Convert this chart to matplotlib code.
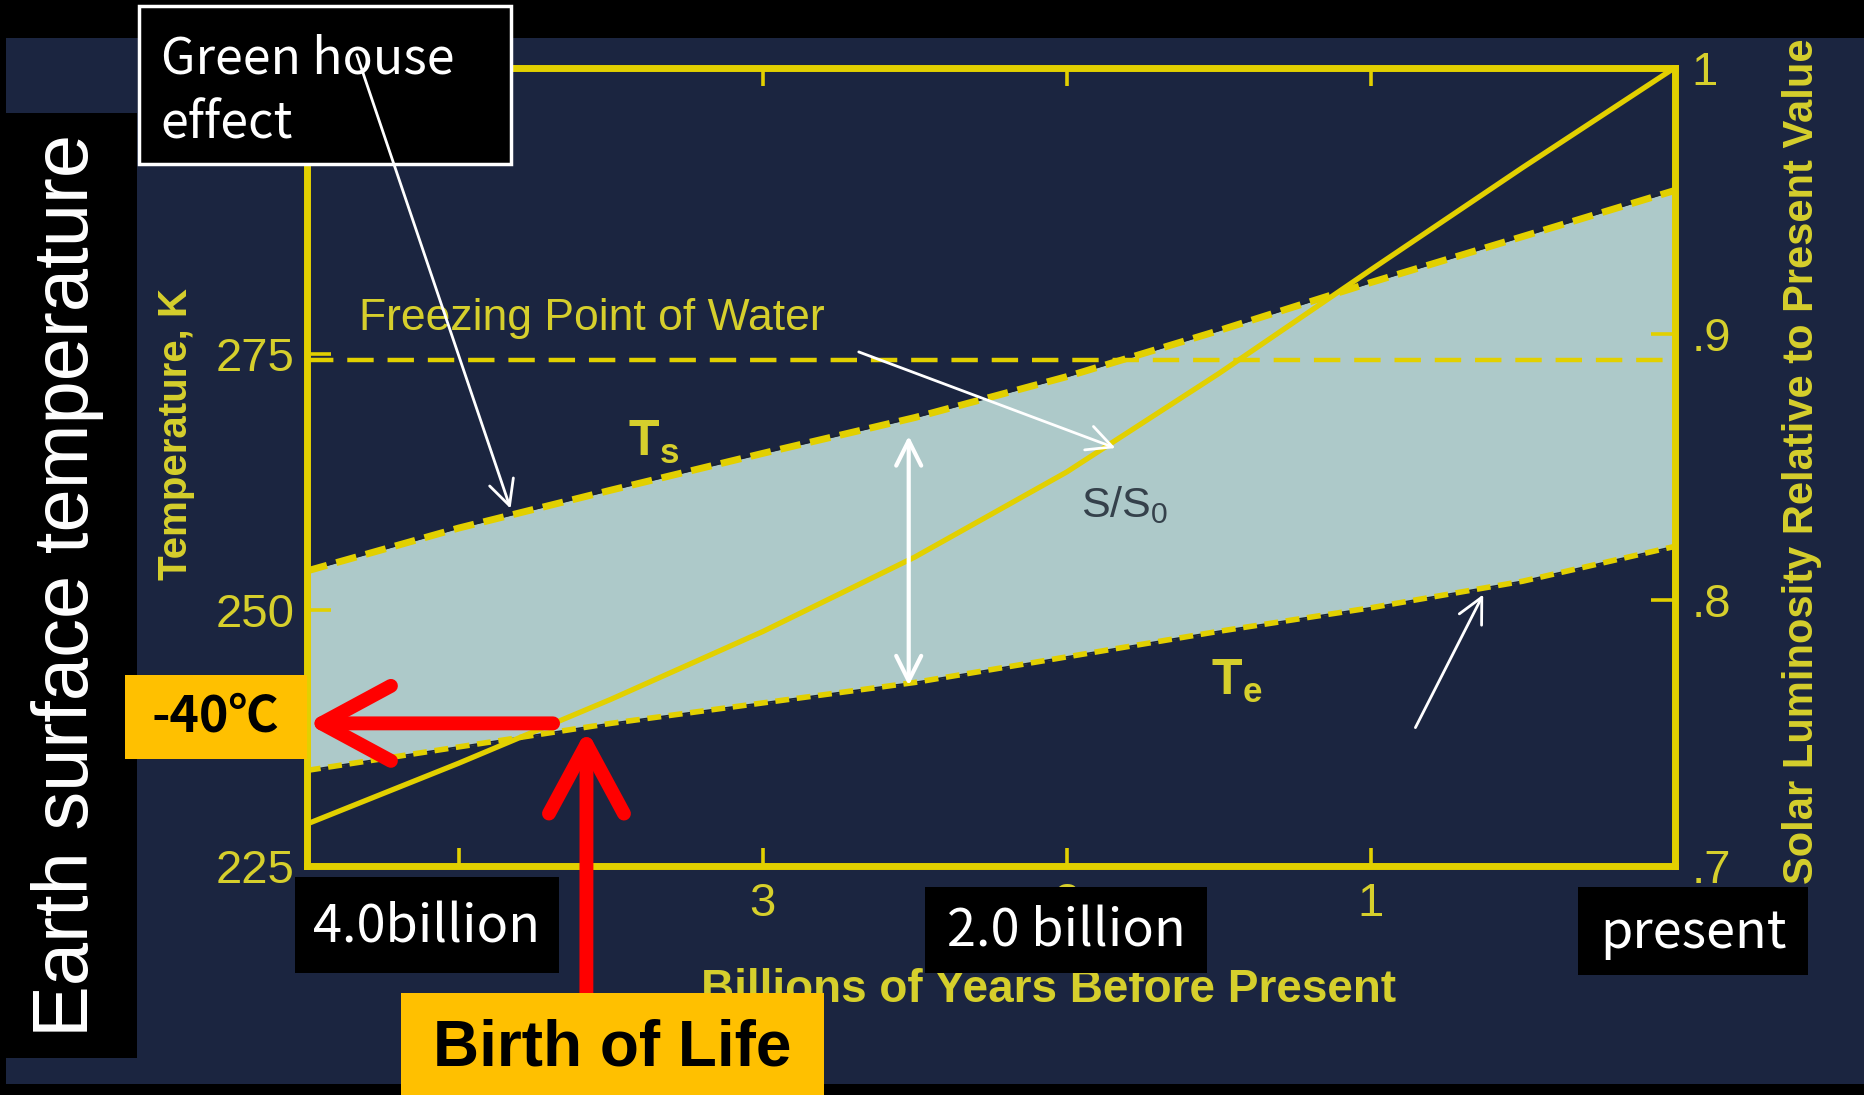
import matplotlib
matplotlib.use('Agg')
import matplotlib.pyplot as plt
from matplotlib.patches import Rectangle
from matplotlib import font_manager

# values
years = [4.5, 4.0, 3.5, 3.0, 2.5, 2.0, 1.5, 1.0, 0.5, 0.0]          # billions of years before present
ts_k = [253.8, 258.0, 261.7, 265.3, 268.8, 272.8, 277.3, 282.0, 286.5, 291.0]   # surface temp
te_k = [234.3, 236.6, 238.9, 240.9, 242.9, 245.4, 247.9, 250.2, 252.8, 256.2]   # effective temp
s_ratio = [0.7156, 0.7385, 0.7625, 0.7880, 0.8160, 0.8480, 0.8850, 0.9240, 0.9625, 1.0]
freezing_k = 274.4

temp_ticks = [225, 250, 275]
lum_ticks = [0.7, 0.8, 0.9, 1.0]
lum_labels = ['.7', '.8', '.9', '1']
year_ticks = [0, 1, 2, 3, 4]
year_labels = ['', '1', '2', '3', '']   # 0 and 4 sit under the slide boxes

birth_year = 3.58
birth_k = 238.6

YELLOW = '#e2d000'
TEXT_YELLOW = '#d6cf2c'
NAVY = '#1b2540'
FILL = '#adc9c9'
ORANGE = '#ffc000'

plt.rcParams['lines.scale_dashes'] = False
plt.rcParams['font.family'] = 'Liberation Sans'
plt.rcParams['mathtext.fontset'] = 'custom'
plt.rcParams['mathtext.rm'] = 'Liberation Sans'
plt.rcParams['mathtext.bf'] = 'Liberation Sans:bold'

names = {f.name for f in font_manager.fontManager.ttflist}
if 'Liberation Sans Narrow' in names:
    narrow, k = ['Liberation Sans Narrow', 'Noto Sans CJK JP'], 1.0
else:
    narrow, k = ['Noto Sans CJK JP'], 0.8

# layout grid used for placing boxes and labels
W, H = 1568, 921

fig = plt.figure(figsize=(18.65, 10.95), dpi=100)
fig.patch.set_facecolor('black')
fig.add_artist(Rectangle((5 / W, 1 - 912 / H), 1563 / W, 880 / H, transform=fig.transFigure,
                         fc=NAVY, ec='none', zorder=-5))

L, R, T, B = 258, 1408, 57, 728
ax = fig.add_axes([L / W, 1 - B / H, (R - L) / W, (B - T) / H])
ax.patch.set_visible(False)
ax.set_xlim(4.5, 0)
ax.set_ylim(225, 303)

# band between effective and surface temperature
ax.fill_between(years, te_k, ts_k, color=FILL, lw=0, zorder=1)
ax.plot(years, ts_k, color='#1a2132', lw=1.2, zorder=2)
ax.plot(years, te_k, color='#1a2132', lw=1.2, zorder=2)
ax.axhline(freezing_k, color=YELLOW, lw=3.2, linestyle=(0, (19, 10)), zorder=3)
ax.plot(years, ts_k, color=YELLOW, lw=5, linestyle=(0, (15, 7)), zorder=3)
ax.plot(years, te_k, color=YELLOW, lw=4, linestyle=(0, (10, 5.5)), zorder=3)

ax.text(4.33, 278.5, 'Freezing Point of Water', color=TEXT_YELLOW, fontsize=32,
        ha='left', va='center', zorder=4)
ax.text(3.36, 266.4, r'$\mathbf{T}_{\mathbf{s}}$', color=TEXT_YELLOW, fontsize=36,
        ha='center', va='center', zorder=4)
ax.text(1.44, 243.0, r'$\mathbf{T}_{\mathbf{e}}$', color=TEXT_YELLOW, fontsize=36,
        ha='center', va='center', zorder=4)
ax.text(1.81, 260.2, r'S/S$_0$', color='#35414b', fontsize=31, ha='center', va='center', zorder=4)

for s in ax.spines.values():
    s.set_color(YELLOW)
    s.set_linewidth(5)
ax.set_yticks(temp_ticks)
ax.set_yticklabels([str(v) for v in temp_ticks])
ax.set_xticks(year_ticks)
ax.set_xticklabels(year_labels)
ax.tick_params(axis='y', direction='in', length=17, width=2.6, color=YELLOW,
               labelcolor=TEXT_YELLOW, labelsize=34, pad=9)
ax.tick_params(axis='x', direction='in', length=13, width=2.6, color=YELLOW, top=True,
               labelcolor=TEXT_YELLOW, labelsize=34, pad=12)

ax2 = ax.twinx()
ax2.set_ylim(0.7, 1.0)
ax2.plot(years, s_ratio, color=YELLOW, lw=3.8, zorder=3)
ax2.set_yticks(lum_ticks)
ax2.set_yticklabels(lum_labels)
ax2.tick_params(axis='y', direction='in', length=17, width=2.6, color=YELLOW,
                labelcolor=TEXT_YELLOW, labelsize=34, pad=12)
for s in ax2.spines.values():
    s.set_visible(False)

# overlay for slide annotations
ax_o = fig.add_axes([0, 0, 1, 1])
ax_o.set_zorder(10)
ax_o.set_xlim(0, W)
ax_o.set_ylim(H, 0)
ax_o.axis('off')

ax_o.text(148, 365, 'Temperature, K', rotation=90, color=TEXT_YELLOW, fontsize=29,
          fontweight='bold', ha='center', va='center', zorder=2)
ax_o.text(1515, 388, 'Solar Luminosity Relative to Present Value', rotation=90,
          color=TEXT_YELLOW, fontsize=30, fontweight='bold', ha='center', va='center', zorder=2)
ax_o.text(882, 833, 'Billions of Years Before Present', color=TEXT_YELLOW, fontsize=33,
          fontweight='bold', ha='center', va='center', zorder=2)

ax_o.add_patch(Rectangle((0, 95), 115, 795, fc='black', ec='none', zorder=3))
ax_o.text(57, 492, 'Earth surface temperature', rotation=90, color='white', fontsize=56,
          ha='center', va='center', zorder=4)

ax_o.add_patch(Rectangle((117, 5), 313, 133, fc='black', ec='white', lw=2.5, zorder=3))
ax_o.text(135, 50, 'Green house', color='white', fontsize=45 * k, family=narrow,
          ha='left', va='center', zorder=4)
ax_o.text(135, 105, 'effect', color='white', fontsize=45 * k, family=narrow,
          ha='left', va='center', zorder=4)

boxes = [((248, 738, 222, 80), '4.0billion'),
         ((778, 746, 237, 72), '2.0 billion'),
         ((1327, 746, 193, 74), 'present')]
for (x, y, w, h), label in boxes:
    ax_o.add_patch(Rectangle((x, y), w, h, fc='black', ec='none', zorder=3))
    ax_o.text(x + w / 2, y + h / 2 + 2, label, color='white', fontsize=47 * k, family=narrow,
              ha='center', va='center', zorder=4)

ax_o.add_patch(Rectangle((105, 568), 153, 70, fc=ORANGE, ec='none', zorder=3))
ax_o.text(181, 603, '-40℃', color='black', fontsize=40 * 0.9, family=narrow, fontweight='bold',
          ha='center', va='center', zorder=4)
ax_o.add_patch(Rectangle((337, 835), 356, 90, fc=ORANGE, ec='none', zorder=5))
ax_o.text(515, 882, 'Birth of Life', color='black', fontsize=46, fontweight='bold',
          ha='center', va='center', zorder=6)

# white pointer arrows
thin = dict(arrowstyle='->,head_length=0.6,head_width=0.3', color='white', lw=2,
            shrinkA=0, shrinkB=0, mutation_scale=30)
ax_o.annotate('', xy=(3.83, 259.9), xycoords=ax.transData, xytext=(300, 46),
              textcoords='data', arrowprops=thin, zorder=7)
ax_o.annotate('', xy=(1.84, 0.857), xycoords=ax2.transData, xytext=(722, 296),
              textcoords='data', arrowprops=thin, zorder=7)
ax_o.annotate('', xy=(0.63, 251.5), xycoords=ax.transData, xytext=(1190, 612),
              textcoords='data', arrowprops=thin, zorder=7)
ax_o.annotate('', xy=(2.52, 242.6), xycoords=ax.transData, xytext=(2.52, 267.0),
              textcoords=ax.transData,
              arrowprops=dict(arrowstyle='<->,head_length=0.6,head_width=0.3', color='white',
                              lw=3, shrinkA=0, shrinkB=0, mutation_scale=30), zorder=7)

# red arrows to the birth of life point
red = dict(arrowstyle='->,head_length=0.5,head_width=0.27', color='red', lw=10,
           shrinkA=0, shrinkB=0, mutation_scale=100, capstyle='round')
ax_o.annotate('', xy=(4.5, birth_k + 0.3), xycoords=ax.transData,
              xytext=(3.69, birth_k + 0.3), textcoords=ax.transData, arrowprops=red, zorder=4)
ax_o.annotate('', xy=(birth_year, birth_k - 0.3), xycoords=ax.transData,
              xytext=(493, 836), textcoords='data', arrowprops=red, zorder=4)

fig.savefig('out.png', dpi=100, facecolor=fig.get_facecolor())
